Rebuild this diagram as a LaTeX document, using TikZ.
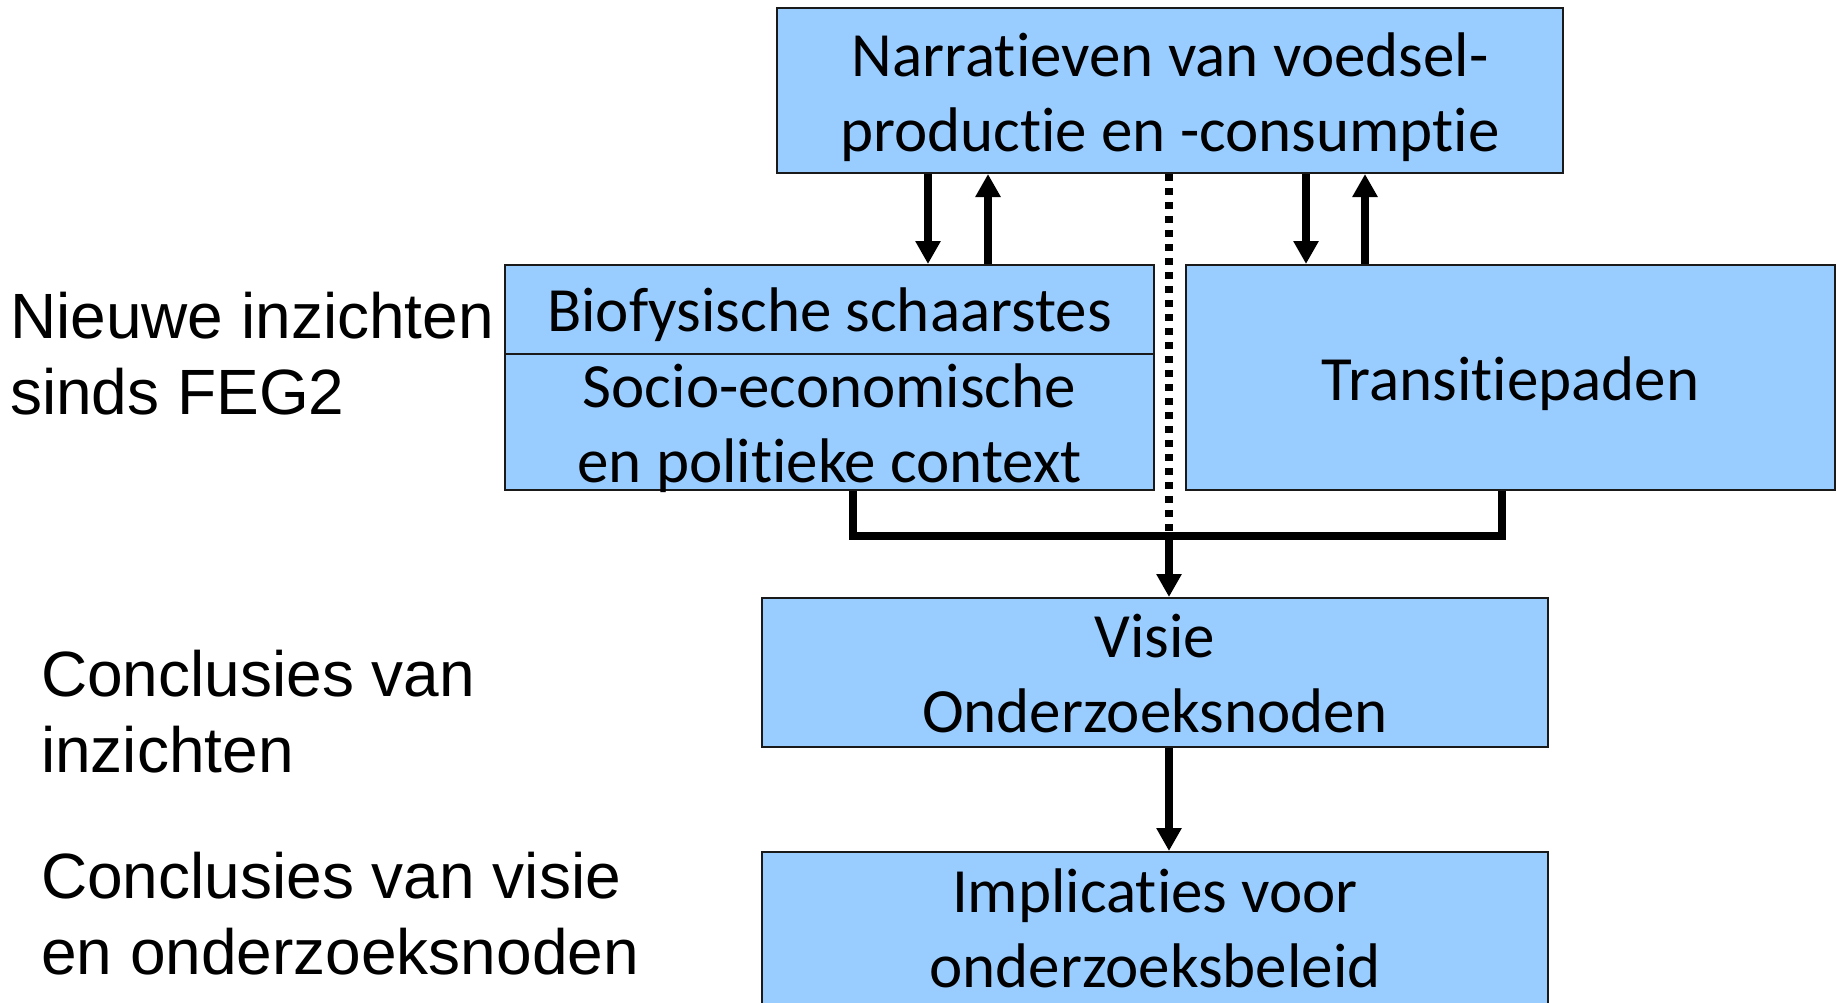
\documentclass[tikz,border=0pt]{standalone}
\usepackage{fontspec}
\setmainfont{Carlito}[Ligatures={CommonOff}]
\newfontfamily\labelfont{Liberation Sans}
\usetikzlibrary{arrows.meta,calc}
\newcommand\tiX{t\kern0pt i}
\definecolor{boxblue}{HTML}{99CCFF}
\definecolor{boxline}{HTML}{1A1A1A}
\tikzset{
  box/.style={draw=boxline, line width=2pt, fill=boxblue, inner sep=0pt},
  boxtext/.style={inner sep=0pt, align=center, font=\fontsize{63}{75}\selectfont},
  sidelabel/.style={anchor=west, inner sep=0pt, align=left, font=\labelfont\fontsize{64}{76}\selectfont},
  arr/.style={line width=7.5pt, -{Triangle[length=23pt,width=24pt]}},
  conn/.style={line width=7.5pt},
  dots/.style={line width=7.5pt, dash pattern=on 7pt off 7pt}
}
\begin{document}
\begin{tikzpicture}[x=1pt,y=-1pt]
\useasboundingbox (0,0) rectangle (1837,1002);
% boxes
\node[box, minimum width=786pt, minimum height=165pt] (top) at (1170,90.5) {};
\node[box, minimum width=649pt, minimum height=89pt] (bio) at (829.5,309.5) {};
\node[box, minimum width=649pt, minimum height=136pt] (socio) at (829.5,422) {};
\node[box, minimum width=649pt, minimum height=225pt] (trans) at (1510.5,377.5) {};
\node[box, minimum width=786pt, minimum height=149pt] (visie) at (1155,672.5) {};
\node[box, minimum width=786pt, minimum height=160pt] (impl) at (1155,932) {};
% box texts
\node[boxtext] (topt) at (1170,97) {Narra\tiX{}even van voedsel-\\produc\tiX{}e en -consump\tiX{}e};
\node[boxtext] (biot) at (829.5,315) {Biofysische schaarstes};
\node[boxtext] (sociot) at (829.5,428) {Socio-economische\\en poli\tiX{}eke context};
\node[boxtext] (transt) at (1510.5,383.5) {Transi\tiX{}epaden};
\node[boxtext] (visiet) at (1155,674) {Visie\\Onderzoeksnoden};
\node[boxtext] (implt) at (1155,928) {Implica\tiX{}es voor\\onderzoeksbeleid};
% side labels
\node[sidelabel] (l1) at (10,354) {Nieuwe inzichten\\sinds FEG2};
\node[sidelabel] (l2) at (41,712) {Conclusies van\\inzichten};
\node[sidelabel] (l3) at (41,914) {Conclusies van visie\\en onderzoeksnoden};
% arrows between narratives and the two middle boxes
\draw[arr] (top.south -| 928,0) -- (bio.north -| 928,0);
\draw[arr] (bio.north -| 988,0) -- (top.south -| 988,0);
\draw[arr] (top.south -| 1306,0) -- (trans.north -| 1306,0);
\draw[arr] (trans.north -| 1365,0) -- (top.south -| 1365,0);
% bracket joining the middle boxes
\coordinate (join) at (1169,536);
\draw[conn, line join=miter] (socio.south -| 853,0) |- (join) -| (trans.south -| 1502,0);
\draw[dots] (top.south -| join) -- (join);
\draw[arr] (join) -- (visie.north -| join);
\draw[arr] (visie.south -| 1169,0) -- (impl.north -| 1169,0);
\end{tikzpicture}
\end{document}
